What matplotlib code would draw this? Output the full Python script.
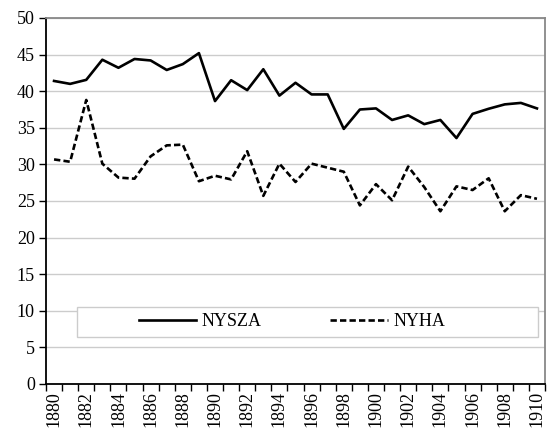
import matplotlib
matplotlib.use("Agg")
import matplotlib.pyplot as plt
from matplotlib.patches import Rectangle
import numpy as np

years = list(range(1880, 1911))
nysza = [41.4, 41.0, 41.55, 44.3, 43.2, 44.4, 44.2, 42.9, 43.7, 45.2,
         38.65, 41.5, 40.15, 43.0, 39.4, 41.15, 39.56, 39.56, 34.85, 37.5,
         37.65, 36.07, 36.7, 35.5, 36.07, 33.6, 36.9, 37.6, 38.2, 38.4, 37.65]
nyha = [30.68, 30.36, 38.8, 30.1, 28.2, 28.05, 31.1, 32.6, 32.7, 27.7,
        28.45, 27.95, 31.8, 25.7, 30.1, 27.6, 30.1, 29.55, 29.0, 24.4,
        27.3, 25.1, 29.7, 26.9, 23.6, 27.0, 26.5, 28.1, 23.6, 25.8, 25.3]
yticks = list(range(0, 55, 5))

plt.rcParams['font.family'] = ['Liberation Serif', 'DejaVu Serif']

fig = plt.figure(figsize=(5.48, 4.37), dpi=100)
ax = fig.add_axes([46/548, 1 - 384/437, (545-46)/548, (384-18)/437])

x = np.arange(len(years))
ax.plot(x, nysza, color='black', lw=1.9, label='NYSZA')
ax.plot(x, nyha, color='black', lw=1.9, ls=(0, (2.4, 1.2)), label='NYHA')

ax.set_ylim(0, 50)
ax.set_xlim(-0.5, len(years) - 0.5)
ax.set_yticks(yticks)
ax.set_yticklabels([str(v) for v in yticks], fontsize=13)
ax.yaxis.grid(True, color='#cccccc', lw=1)
ax.set_axisbelow(True)

ax.set_xticks(np.arange(-0.5, len(years), 1.0))
ax.set_xticklabels([])
ax.set_xticks(x[::2], minor=True)
ax.set_xticklabels([str(y) for y in years[::2]], minor=True, rotation=90, fontsize=13)
ax.tick_params(axis='x', which='minor', length=0, pad=5)
ax.tick_params(axis='x', which='major', length=5, width=1, direction='out')
ax.tick_params(axis='y', length=5, width=1, direction='out', pad=3)

for s in ['left', 'bottom']:
    ax.spines[s].set_color('black')
    ax.spines[s].set_linewidth(1.3)
for s in ['top', 'right']:
    ax.spines[s].set_color('#888888')
    ax.spines[s].set_linewidth(1.3)

# legend box
bx0, bx1 = (77-46)/499, (538-46)/499
by0, by1 = (384-337)/366, (384-307)/366
ax.add_patch(Rectangle((bx0, by0), bx1-bx0, by1-by0, transform=ax.transAxes,
                       facecolor='white', edgecolor='#cccccc', lw=1, zorder=3))
leg = ax.legend(loc='center', bbox_to_anchor=((292-46)/499, (by0+by1)/2),
                ncol=2, fontsize=13, frameon=False,
                handlelength=3.2, handletextpad=0.3, columnspacing=3.8)
leg.set_zorder(4)

fig.savefig('out.png', dpi=100)
